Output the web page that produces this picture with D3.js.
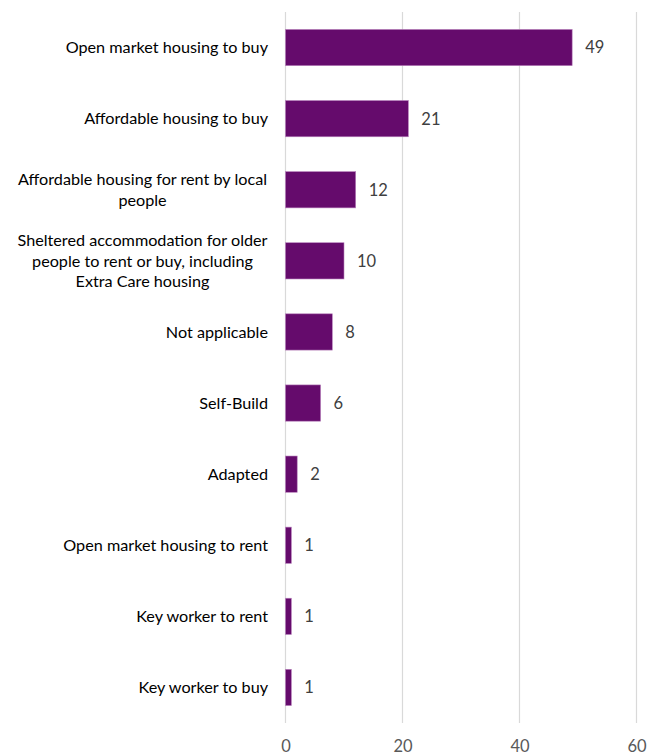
<!DOCTYPE html>
<html>
<head>
<meta charset="utf-8">
<script src="https://cdn.jsdelivr.net/npm/d3@7"></script>
<style>
  html, body { margin: 0; padding: 0; background: #fff; }
  svg { display: block; }
  text { font-family: Lato, "Open Sans", sans-serif; }
</style>
</head>
<body>
<div id="chart"></div>
<script>
// Housing types wanted (count of responses)
const categories = [
  "Open market housing to buy",
  "Affordable housing to buy",
  "Affordable housing for rent by local people",
  "Sheltered accommodation for older people to rent or buy, including Extra Care housing",
  "Not applicable",
  "Self-Build",
  "Adapted",
  "Open market housing to rent",
  "Key worker to rent",
  "Key worker to buy"
];
const values = [49, 21, 12, 10, 8, 6, 2, 1, 1, 1];
const tickValues = [0, 20, 40, 60];

// Label lines for the wrapped category names
const labelLines = [
  ["Open market housing to buy"],
  ["Affordable housing to buy"],
  ["Affordable housing for rent by local", "people"],
  ["Sheltered accommodation for older", "people to rent or buy, including", "Extra Care housing"],
  ["Not applicable"],
  ["Self-Build"],
  ["Adapted"],
  ["Open market housing to rent"],
  ["Key worker to rent"],
  ["Key worker to buy"]
];

const W = 657, H = 755;
const margin = { top: 12, right: 20.5, bottom: 32, left: 285.5 };

const svg = d3.select("#chart").append("svg")
  .attr("width", W).attr("height", H);

const x = d3.scaleLinear().domain([0, 60]).range([margin.left, W - margin.right]);
const y = d3.scaleBand().domain(categories)
  .range([margin.top, H - margin.bottom]).paddingInner(0.49).paddingOuter(0.245);

// Vertical gridlines
svg.append("g").selectAll("line").data(tickValues).join("line")
  .attr("x1", d => x(d)).attr("x2", d => x(d))
  .attr("y1", margin.top).attr("y2", H - margin.bottom)
  .attr("stroke", "#d9d9d9").attr("stroke-width", 1.2);

// Bars
svg.append("g").selectAll("rect").data(values).join("rect")
  .attr("x", x(0))
  .attr("y", (d, i) => y(categories[i]))
  .attr("width", d => x(d) - x(0))
  .attr("height", y.bandwidth())
  .attr("fill", "#650b6c")
  .attr("stroke", "#b882bc").attr("stroke-width", 0.6);

// Value labels
svg.append("g").selectAll("text").data(values).join("text")
  .attr("x", d => x(d) + 13)
  .attr("y", (d, i) => y(categories[i]) + y.bandwidth() / 2)
  .attr("dy", "0.36em")
  .attr("font-size", 16.5)
  .attr("fill", "#404040")
  .text(d => d);

// Category labels
const lineH = 20.5;
const lab = svg.append("g").selectAll("text").data(labelLines).join("text")
  .attr("text-anchor", (d) => d.length > 1 ? "middle" : "end")
  .attr("font-size", 16.2)
  .attr("fill", "#000");
lab.each(function(lines, i) {
  const cy = y(categories[i]) + y.bandwidth() / 2;
  const t = d3.select(this);
  const cx = lines.length > 1 ? 142.5 : 268;
  lines.forEach((ln, k) => {
    t.append("tspan")
      .attr("x", cx)
      .attr("y", cy + (k - (lines.length - 1) / 2) * lineH)
      .attr("dy", "0.36em")
      .text(ln);
  });
});

// Axis
const axis = d3.axisBottom(x).tickValues(tickValues).tickSize(0).tickPadding(6);
const ag = svg.append("g").attr("transform", `translate(0,${H - margin.bottom})`).call(axis);
ag.select(".domain").remove();
ag.selectAll("text").attr("font-size", 16.5).attr("fill", "#595959")
  .attr("font-family", "Lato, 'Open Sans', sans-serif")
  .attr("dy", null).attr("y", null)
  .attr("transform", "translate(0,29)");
</script>
</body>
</html>
